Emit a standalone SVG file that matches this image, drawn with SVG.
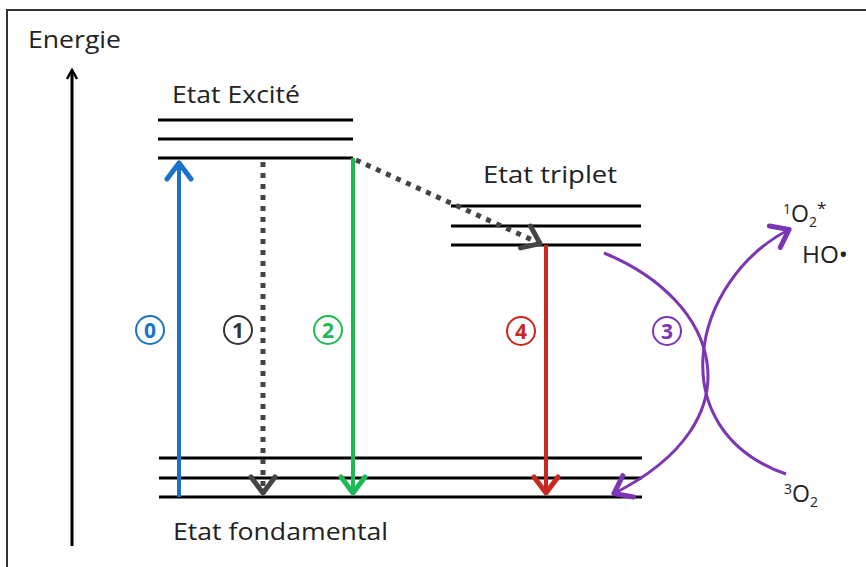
<svg xmlns="http://www.w3.org/2000/svg" width="866" height="567" viewBox="0 0 866 567">
  <defs>
    <style>
      .lbl { font-family: "Open Sans", "Liberation Sans", sans-serif; font-size: 23px; fill: #222; }
      .lvl { stroke: #000; stroke-width: 3; }
      .num { font-family: "Open Sans", "Liberation Sans", sans-serif; font-size: 21px; font-weight: bold; text-anchor: middle; }
      .ring { fill: none; stroke-width: 2; }
    </style>
    <marker id="hBlack" viewBox="0 0 12 12" refX="10" refY="6" markerWidth="12" markerHeight="12" markerUnits="userSpaceOnUse" orient="auto">
      <path d="M1,1 L10,6 L1,11" fill="none" stroke="#000" stroke-width="2.5"/>
    </marker>
    <marker id="hBlue" viewBox="0 0 22 30" refX="20" refY="15" markerWidth="22" markerHeight="30" markerUnits="userSpaceOnUse" orient="auto">
      <path d="M3,3 L19,15 L3,27" fill="none" stroke="#1a73c8" stroke-width="5" stroke-linecap="round" stroke-linejoin="round"/>
    </marker>
    <marker id="hGreen" viewBox="0 0 22 30" refX="20" refY="15" markerWidth="22" markerHeight="30" markerUnits="userSpaceOnUse" orient="auto">
      <path d="M3,3 L19,15 L3,27" fill="none" stroke="#1db954" stroke-width="5" stroke-linecap="round" stroke-linejoin="round"/>
    </marker>
    <marker id="hRed" viewBox="0 0 22 30" refX="20" refY="15" markerWidth="22" markerHeight="30" markerUnits="userSpaceOnUse" orient="auto">
      <path d="M3,3 L19,15 L3,27" fill="none" stroke="#c8281e" stroke-width="5" stroke-linecap="round" stroke-linejoin="round"/>
    </marker>
    <marker id="hGray" viewBox="0 0 22 30" refX="20" refY="15" markerWidth="22" markerHeight="30" markerUnits="userSpaceOnUse" orient="auto">
      <path d="M3,3 L19,15 L3,27" fill="none" stroke="#444" stroke-width="5" stroke-linecap="round" stroke-linejoin="round"/>
    </marker>
    <marker id="hPurple" viewBox="0 0 22 30" refX="20" refY="15" markerWidth="22" markerHeight="30" markerUnits="userSpaceOnUse" orient="auto">
      <path d="M3,3 L19,15 L3,27" fill="none" stroke="#7b35b5" stroke-width="5" stroke-linecap="round" stroke-linejoin="round"/>
    </marker>
  </defs>

  <rect width="866" height="567" fill="#fff"/>
  <!-- frame: only top and left edges fall inside the canvas -->
  <path d="M7,580 L7,10 L880,10" fill="none" stroke="#333" stroke-width="2"/>

  <!-- energy axis -->
  <g id="axis">
    <line x1="72" y1="546" x2="72" y2="70" stroke="#000" stroke-width="3" marker-end="url(#hBlack)"/>
    <text class="lbl" x="28" y="48" textLength="93" lengthAdjust="spacingAndGlyphs">Energie</text>
  </g>

  <g id="excited">
    <line class="lvl" x1="158" y1="120" x2="353" y2="120"/>
    <line class="lvl" x1="158" y1="139" x2="353" y2="139"/>
    <line class="lvl" x1="158" y1="158" x2="353" y2="158"/>
    <text class="lbl" x="172" y="103" textLength="128" lengthAdjust="spacingAndGlyphs">Etat Excité</text>
  </g>

  <g id="triplet">
    <line class="lvl" x1="451" y1="206" x2="641" y2="206"/>
    <line class="lvl" x1="451" y1="226" x2="641" y2="226"/>
    <line class="lvl" x1="451" y1="245" x2="641" y2="245"/>
    <text class="lbl" x="483" y="183" textLength="134" lengthAdjust="spacingAndGlyphs">Etat triplet</text>
  </g>

  <g id="ground">
    <line class="lvl" x1="159" y1="458" x2="642" y2="458"/>
    <line class="lvl" x1="159" y1="478" x2="642" y2="478"/>
    <line class="lvl" x1="159" y1="497" x2="642" y2="497"/>
    <text class="lbl" x="173" y="540" textLength="215" lengthAdjust="spacingAndGlyphs">Etat fondamental</text>
  </g>

  <g id="oxygen">
    <text class="lbl" x="783" y="222"><tspan font-size="14" dy="-8">1</tspan><tspan dy="8">O</tspan><tspan font-size="14" dy="5">2</tspan><tspan font-size="17" dy="-13">*</tspan></text>
    <text class="lbl" x="802" y="263" textLength="46" lengthAdjust="spacingAndGlyphs">HO•</text>
    <text class="lbl" x="784" y="502"><tspan font-size="14" dy="-8">3</tspan><tspan dy="8">O</tspan><tspan font-size="14" dy="5">2</tspan></text>
  </g>

  <g id="connectors">
    <!-- 0: absorption -->
    <line x1="179" y1="497" x2="179" y2="162" stroke="#1a73c8" stroke-width="4" marker-end="url(#hBlue)"/>
    <!-- 1: non-radiative decay -->
    <line x1="263" y1="162" x2="263" y2="494" stroke="#444" stroke-width="5" stroke-dasharray="5,6" marker-end="url(#hGray)"/>
    <!-- 2: fluorescence -->
    <line x1="353" y1="158" x2="353" y2="494" stroke="#1db954" stroke-width="4" marker-end="url(#hGreen)"/>
    <!-- intersystem crossing -->
    <line x1="356" y1="160" x2="541" y2="244" stroke="#444" stroke-width="5" stroke-dasharray="5,6" marker-end="url(#hGray)"/>
    <!-- 4: phosphorescence -->
    <line x1="546" y1="245" x2="546" y2="494" stroke="#c8281e" stroke-width="4" marker-end="url(#hRed)"/>
    <!-- 3: energy transfer to oxygen, two crossing arcs -->
    <path d="M604,253 C720,300 760,420 613,494" fill="none" stroke="#7b35b5" stroke-width="3" marker-end="url(#hPurple)"/>
    <path d="M786,474 C660,430 690,280 790,229" fill="none" stroke="#7b35b5" stroke-width="3" marker-end="url(#hPurple)"/>
  </g>

  <g id="labels">
    <circle class="ring" cx="150" cy="330" r="14" stroke="#1a73c8"/>
    <text class="num" x="150" y="337.5" fill="#1a73c8">0</text>
    <circle class="ring" cx="238" cy="330" r="14" stroke="#333"/>
    <text class="num" x="238" y="337.5" fill="#333">1</text>
    <circle class="ring" cx="328" cy="330" r="14" stroke="#1db954"/>
    <text class="num" x="328" y="337.5" fill="#1db954">2</text>
    <circle class="ring" cx="521" cy="331" r="14" stroke="#c8281e"/>
    <text class="num" x="521" y="338.5" fill="#c8281e">4</text>
    <circle class="ring" cx="667" cy="331" r="14" stroke="#7b35b5"/>
    <text class="num" x="667" y="338.5" fill="#7b35b5">3</text>
  </g>
</svg>
